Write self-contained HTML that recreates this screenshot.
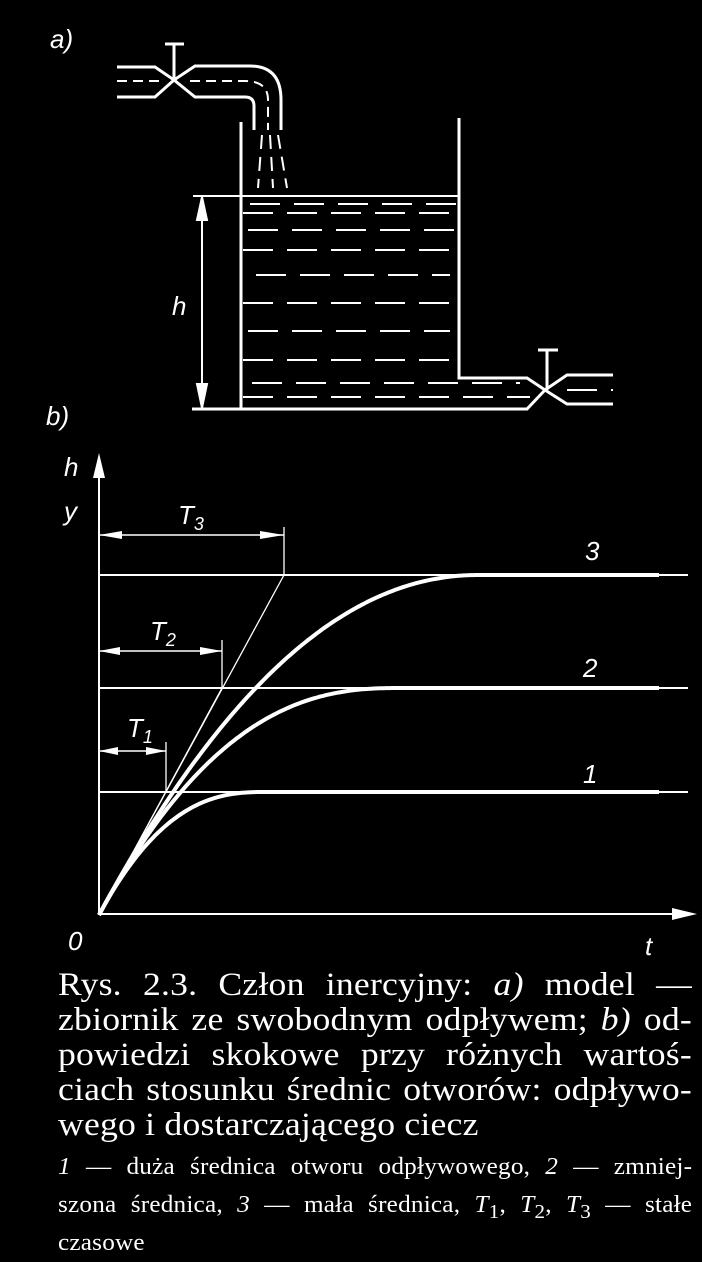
<!DOCTYPE html>
<html><head><meta charset="utf-8"><style>
html,body{margin:0;padding:0;background:#000;}
body{width:702px;height:1262px;overflow:hidden;position:relative;}
svg{position:absolute;left:0;top:0;}
.cap{position:absolute;left:58px;color:#fff;font-family:"Liberation Serif",serif;text-align:justify;text-align-last:justify;white-space:nowrap;transform-origin:0 0;}
.big{font-size:33px;line-height:35px;width:587px;transform:scaleX(1.08);letter-spacing:0.2px;}
.sm{font-size:24px;line-height:35px;width:604px;transform:scaleX(1.05);letter-spacing:0.2px;}
</style></head><body>
<svg width="702" height="1262" viewBox="0 0 702 1262" fill="none" stroke="#fff" stroke-width="2">
<g font-family="Liberation Sans,sans-serif" font-style="italic" fill="#fff" stroke="none" font-size="26">
<text x="50" y="48">a)</text>
<text x="172" y="315">h</text>
<text x="46" y="425">b)</text>
<text x="64" y="476">h</text>
<text x="64" y="520">y</text>
<text x="68" y="950">0</text>
<text x="645" y="955">t</text>
<text x="585" y="560">3</text>
<text x="583" y="677">2</text>
<text x="583" y="783">1</text>
<text x="178" y="524">T<tspan font-size="18" dy="6">3</tspan></text>
<text x="150" y="640">T<tspan font-size="18" dy="6">2</tspan></text>
<text x="127" y="737">T<tspan font-size="18" dy="6">1</tspan></text>
</g>
<path d="M117 67H155L174 80L195 66H250Q281 66 281 100V130" stroke-width="3"/>
<path d="M117 97H155L174 80L195 97H245Q254 97 254 106V130" stroke-width="3"/>
<path d="M174 80V44M165 44H184" stroke-width="3"/>
<path d="M117 81H160M190 81H245Q268 81 268 100V130" stroke-dasharray="10 6"/>
<path d="M262 135L258 188M270 135L273 188M278 135L287 188" stroke-dasharray="14 8"/>
<path d="M241 122V409M459 118V378H527L545 390L567 375H613M192 409H241H527L545 390L567 404H613" stroke-width="3"/>
<path d="M547 390V350M538 350H558" stroke-width="3"/>
<path d="M193 196H459" stroke-width="2"/>
<g stroke-dasharray="30 14" stroke-width="2">
<path d="M250 204H458M243 213H458M248 230H458M243 250H458M256 275H450M243 303H458M248 331H450M243 360H458M252 383H520M243 397H530M567 390H613"/>
</g>
<path d="M202 197V407"/>
<path d="M202 197L197 220H207Z M202 408L197 384H207Z" fill="#fff"/>
<path d="M99 915V470M99 914H680" stroke-width="2"/>
<path d="M99 453L93 478H105Z M697 914L672 908V920Z" fill="#fff" stroke="none"/>
<path d="M99 575H688M99 688H688M99 792H688" stroke-width="2"/>
<path d="M99 915L284 575M99 915L222 688" stroke-width="1.3"/>
<path d="M284 527V575M222 640V688M166 742V792" stroke-width="1.3"/>
<path d="M99 535H284M99 651H222M99 751H166" stroke-width="1.5"/>
<path d="M99 535L122 531V539ZM284 535L260 531V539ZM99 651L120 647V655ZM222 651L200 647V655ZM99 751L118 747V755ZM166 751L146 747V755Z" fill="#fff" stroke="none"/>
<path id="c3" stroke-width="4"/><path id="c2" stroke-width="4"/><path id="c1" stroke-width="4"/>
</svg>
<div class="cap big" style="top:968px">Rys. 2.3. Człon inercyjny: <i>a)</i> model —</div>
<div class="cap big" style="top:1003px">zbiornik ze swobodnym odpływem; <i>b)</i> od-</div>
<div class="cap big" style="top:1038px">powiedzi skokowe przy różnych wartoś-</div>
<div class="cap big" style="top:1073px">ciach stosunku średnic otworów: odpływo-</div>
<div class="cap big" style="top:1108px;text-align-last:left;">wego i dostarczającego ciecz</div>
<div class="cap sm" style="top:1150px"><i>1</i> — duża średnica otworu odpływowego, <i>2</i> — zmniej-</div>
<div class="cap sm" style="top:1188px">szona średnica, <i>3</i> — mała średnica, <i>T</i><sub>1</sub>, <i>T</i><sub>2</sub>, <i>T</i><sub>3</sub> — stałe</div>
<div class="cap sm" style="top:1226px;text-align-last:left;">czasowe</div>
<script>
function c(id,L,tf,n){var d="M99 915";for(var t=2;t<=561;t+=3){var u=Math.min(t/tf,1);d+="L"+(99+t)+" "+(915-L*(1-Math.pow(1-u,n))).toFixed(1);}document.getElementById(id).setAttribute("d",d);}
c("c3",340,380,2.07);c("c2",227,300,2.45);c("c1",123,165,2.5);
</script>
</body></html>
